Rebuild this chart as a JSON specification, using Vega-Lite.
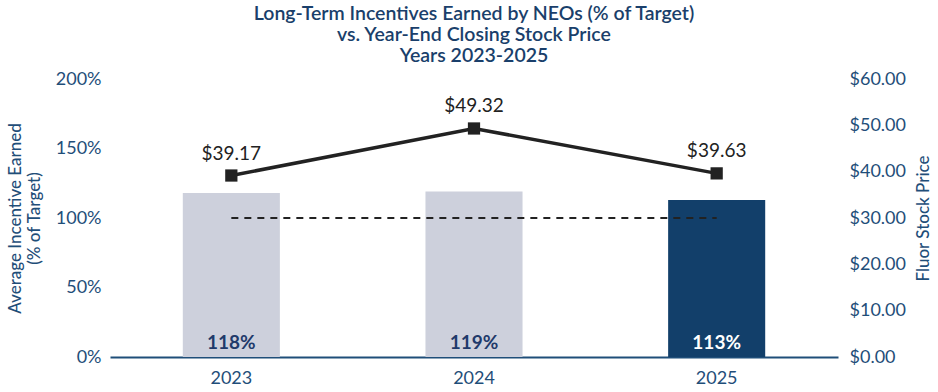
{
  "$schema": "https://vega.github.io/schema/vega-lite/v6.json",
  "autosize": {"type": "none"},
  "width": 728,
  "height": 278,
  "padding": {"left": 110, "top": 79, "right": 100, "bottom": 35},
  "background": "white",
  "config": {
    "font": "Lato",
    "view": {"stroke": null},
    "axis": {"grid": false, "ticks": false, "labelFont": "Lato", "titleFont": "Lato", "labelColor": "#1f4e79", "titleColor": "#1f4e79", "labelFontSize": 18, "titleFontSize": 17}
  },
  "title": {
    "text": ["Long-Term Incentives Earned by NEOs (% of Target)", "vs. Year-End Closing Stock Price", "Years 2023-2025"],
    "fontSize": 19.5,
    "fontWeight": 600,
    "color": "#1a3f6b",
    "lineHeight": 21,
    "anchor": "middle",
    "offset": 4
  },
  "data": {
    "values": [
      {"Year": "2023", "Earned": 118, "Price": 39.17, "Target": 100, "Label": "118%", "PriceLabel": "$39.17", "Current": "no"},
      {"Year": "2024", "Earned": 119, "Price": 49.32, "Target": 100, "Label": "119%", "PriceLabel": "$49.32", "Current": "no"},
      {"Year": "2025", "Earned": 113, "Price": 39.63, "Target": 100, "Label": "113%", "PriceLabel": "$39.63", "Current": "yes"}
    ]
  },
  "encoding": {
    "x": {
      "field": "Year", "type": "nominal",
      "scale": {"paddingInner": 0.6, "paddingOuter": 0.3},
      "axis": {"title": null, "labelAngle": 0, "domainColor": "#1f4e79", "domainWidth": 2, "labelPadding": 12}
    }
  },
  "layer": [
    {
      "encoding": {
        "y": {
          "field": "Earned", "type": "quantitative",
          "scale": {"domain": [0, 200]},
          "axis": {"orient": "left", "values": [0, 50, 100, 150, 200], "labelExpr": "datum.value + '%'", "domain": false, "labelPadding": 9, "title": ["Average Incentive Earned", "(% of Target)"], "titlePadding": 12, "titleFontWeight": 500}
        }
      },
      "layer": [
        {
          "mark": {"type": "bar"},
          "encoding": {
            "color": {"field": "Current", "type": "nominal", "scale": {"domain": ["no", "yes"], "range": ["#cdd0dc", "#123f6a"]}, "legend": null}
          }
        },
        {
          "mark": {"type": "line", "strokeDash": [7, 6], "color": "#222222", "strokeWidth": 2},
          "encoding": {"y": {"field": "Target", "type": "quantitative"}}
        },
        {
          "mark": {"type": "text", "baseline": "bottom", "dy": -4, "fontSize": 19, "fontWeight": "bold"},
          "encoding": {
            "y": {"datum": 0},
            "text": {"field": "Label"},
            "color": {"field": "Current", "type": "nominal", "scale": {"domain": ["no", "yes"], "range": ["#1f3a6b", "#ffffff"]}, "legend": null}
          }
        }
      ],
      "resolve": {"scale": {"color": "independent"}}
    },
    {
      "encoding": {
        "y": {
          "field": "Price", "type": "quantitative",
          "scale": {"domain": [0, 60]},
          "axis": {"orient": "right", "values": [0, 10, 20, 30, 40, 50, 60], "format": "$.2f", "domain": false, "labelPadding": 11, "title": "Fluor Stock Price", "titleAngle": -90, "titleBaseline": "top", "titlePadding": 10, "titleFontWeight": 500}
        }
      },
      "layer": [
        {"mark": {"type": "line", "color": "#222222", "strokeWidth": 3.5}},
        {"mark": {"type": "square", "color": "#222222", "size": 150, "opacity": 1}},
        {"mark": {"type": "text", "baseline": "bottom", "dy": -12, "fontSize": 19, "color": "#222222"}, "encoding": {"text": {"field": "PriceLabel"}}}
      ]
    }
  ],
  "resolve": {"scale": {"y": "independent", "color": "independent"}}
}
